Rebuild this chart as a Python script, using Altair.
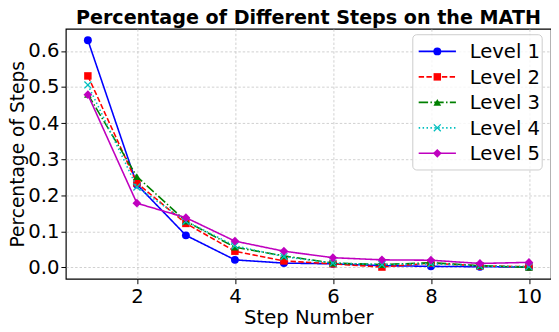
import altair as alt
import pandas as pd

steps = [1, 2, 3, 4, 5, 6, 7, 8, 9, 10]
level_names = ["Level 1", "Level 2", "Level 3", "Level 4", "Level 5"]
level1 = [0.630, 0.230, 0.089, 0.021, 0.012, 0.010, 0.005, 0.003, 0.002, 0.001]
level2 = [0.531, 0.234, 0.122, 0.045, 0.018, 0.010, 0.001, 0.012, 0.004, 0.002]
level3 = [0.480, 0.252, 0.128, 0.056, 0.032, 0.012, 0.008, 0.013, 0.005, 0.000]
level4 = [0.506, 0.223, 0.128, 0.060, 0.030, 0.012, 0.008, 0.010, 0.004, 0.002]
level5 = [0.479, 0.178, 0.138, 0.073, 0.045, 0.027, 0.021, 0.020, 0.011, 0.014]
x_ticks = [2, 4, 6, 8, 10]
y_ticks = [0.0, 0.1, 0.2, 0.3, 0.4, 0.5, 0.6]

series = [level1, level2, level3, level4, level5]
colors = ["#0000ff", "#ff0000", "#008000", "#00bfbf", "#bf00bf"]
dashes = [[1, 0], [5.5, 2.4], [9.6, 2.4, 1.5, 2.4], [1.5, 2.5], [1, 0]]
shapes = ["circle", "square", "triangle-up", "M-1,-1L1,1M-1,1L1,-1", "diamond"]
sizes = [65, 58, 62, 50, 80]
filled = [True, True, True, False, True]

rows = []
for name, vals in zip(level_names, series):
    for s, v in zip(steps, vals):
        rows.append({"level": name, "step": s, "pct": v})
df = pd.DataFrame(rows)

FONT = "DejaVu Sans"
FS = 20
W, H = 495, 255

xs = alt.X("step:Q", scale=alt.Scale(domain=[0.55, 10.45], nice=False, zero=False),
           axis=alt.Axis(values=x_ticks, format="d", title="Step Number"))
ys = alt.Y("pct:Q", scale=alt.Scale(domain=[-0.0315, 0.6615], nice=False, zero=False),
           axis=alt.Axis(values=y_ticks, format=".1f", title="Percentage of Steps"))

layers = []
for i, name in enumerate(level_names):
    sub = alt.Chart(df).transform_filter(alt.datum.level == name)
    line = sub.mark_line(color=colors[i], strokeWidth=1.6, strokeDash=dashes[i]).encode(x=xs, y=ys)
    pt = sub.mark_point(shape=shapes[i], size=sizes[i], filled=filled[i], color=colors[i],
                        opacity=1, strokeWidth=1.3 if not filled[i] else 0).encode(x=xs, y=ys)
    layers += [line, pt]

# legend (drawn by hand, like matplotlib's)
leg_df = pd.DataFrame({"level": level_names})
box = alt.Chart(leg_df).transform_filter(alt.datum.level == "Level 1").mark_rect(
    fill="white", fillOpacity=0.8, stroke="#cccccc", strokeWidth=1, cornerRadius=4
).encode(x=alt.value(354), x2=alt.value(486), y=alt.value(6), y2=alt.value(144))
layers.append(box)
row_y = [23, 49, 75, 101, 127]
for i, name in enumerate(level_names):
    one = alt.Chart(leg_df).transform_filter(alt.datum.level == name)
    layers.append(one.mark_rule(color=colors[i], strokeWidth=1.6, strokeDash=dashes[i]).encode(
        x=alt.value(360), x2=alt.value(398), y=alt.value(row_y[i])))
    layers.append(one.mark_point(shape=shapes[i], size=sizes[i], filled=filled[i], color=colors[i],
                                 opacity=1, strokeWidth=1.3 if not filled[i] else 0).encode(
        x=alt.value(379), y=alt.value(row_y[i])))
    layers.append(one.mark_text(align="left", baseline="middle", font=FONT, fontSize=FS,
                                color="black").encode(
        x=alt.value(412), y=alt.value(row_y[i] + 1), text="level:N"))

chart = alt.layer(*layers).properties(
    width=W, height=H,
    title=alt.TitleParams("Percentage of Different Steps on the MATH", font=FONT, fontSize=19.5,
                          fontWeight="bold", anchor="middle", offset=0, color="black"),
    autosize=alt.AutoSizeParams(type="none"),
    padding={"left": 59, "top": 18, "right": 0, "bottom": 50},
).configure_view(stroke="black", strokeWidth=1.2).configure_axis(
    labelFont=FONT, titleFont=FONT, labelFontSize=FS, titleFontSize=FS, titleFontWeight="normal",
    labelColor="black", titleColor="black", tickColor="black", tickSize=5, domain=False,
    grid=True, gridColor="#c4c4c4", gridDash=[2.5, 2], gridWidth=0.8,
).configure_axisY(titlePadding=0, labelPadding=2, titleFontSize=19).configure_axisX(titlePadding=2, labelPadding=3)

chart.save("out.html", embed_options={"renderer": "svg", "actions": False})
